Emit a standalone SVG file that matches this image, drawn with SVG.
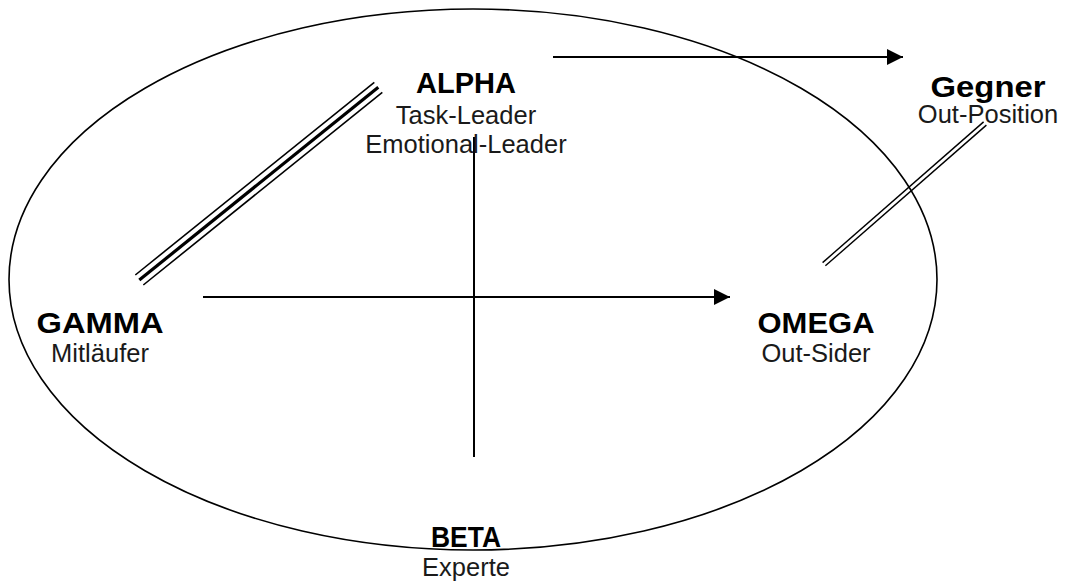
<svg xmlns="http://www.w3.org/2000/svg" width="1067" height="581" viewBox="0 0 1067 581">
<style>
.b{font-family:"Liberation Sans",Arial,sans-serif;font-weight:bold;font-size:30px;fill:#000;text-anchor:middle}
.r{font-family:"Liberation Sans",Arial,sans-serif;font-size:25.5px;fill:#1a1a1a;text-anchor:middle}
.ln{stroke:#000;fill:none}
</style>
<defs>
<marker id="ah" markerWidth="16" markerHeight="16" viewBox="0 0 16 16" refX="16" refY="8" orient="auto" markerUnits="userSpaceOnUse">
<path d="M0,0 L16,8 L0,16 Z" fill="#000"/>
</marker>
</defs>
<rect width="1067" height="581" fill="#fff"/>
<g id="boundary">
<ellipse cx="473" cy="279.5" rx="464" ry="270.5" class="ln" stroke-width="1.6"/>
</g>
<g id="connectors">
<line x1="553" y1="57" x2="903" y2="57" class="ln" stroke-width="2" marker-end="url(#ah)"/>
<line x1="203" y1="297" x2="730" y2="297" class="ln" stroke-width="2" marker-end="url(#ah)"/>
<line x1="474" y1="137" x2="474" y2="457" class="ln" stroke-width="2"/>
<line x1="135.3" y1="275" x2="374.3" y2="82.3" class="ln" stroke-width="1.6"/>
<line x1="139.3" y1="280" x2="378.3" y2="87.3" class="ln" stroke-width="3.2"/>
<line x1="143.3" y1="285" x2="382.3" y2="92.3" class="ln" stroke-width="1.6"/>
<line x1="822.6" y1="262.6" x2="983.6" y2="121.9" class="ln" stroke-width="1.4"/>
<line x1="825.4" y1="265.8" x2="986.4" y2="125.1" class="ln" stroke-width="1.4"/>
</g>
<g id="alpha">
<text x="466" y="93" class="b" textLength="100" lengthAdjust="spacingAndGlyphs">ALPHA</text>
<text x="466" y="124" class="r">Task-Leader</text>
<text x="466" y="153" class="r">Emotional-Leader</text>
</g>
<g id="gegner">
<text x="988" y="97" class="b" textLength="115" lengthAdjust="spacingAndGlyphs">Gegner</text>
<text x="988" y="123" class="r">Out-Position</text>
</g>
<g id="gamma">
<text x="100" y="333" class="b" textLength="127" lengthAdjust="spacingAndGlyphs">GAMMA</text>
<text x="100" y="362" class="r">Mitläufer</text>
</g>
<g id="omega">
<text x="816" y="333" class="b" textLength="117" lengthAdjust="spacingAndGlyphs">OMEGA</text>
<text x="816" y="362" class="r">Out-Sider</text>
</g>
<g id="beta">
<text x="466" y="547" class="b" textLength="70" lengthAdjust="spacingAndGlyphs">BETA</text>
<text x="466" y="576" class="r">Experte</text>
</g>
</svg>
